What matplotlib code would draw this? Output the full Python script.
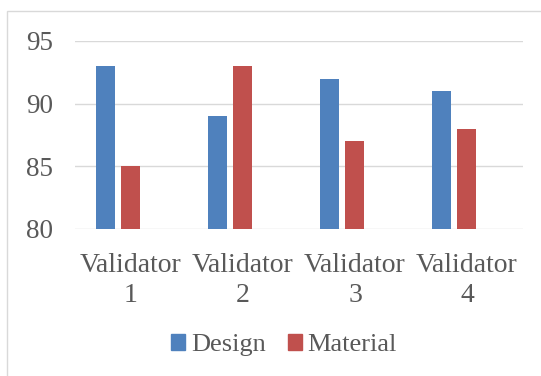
import numpy as np
import matplotlib.pyplot as plt
from matplotlib.patches import Rectangle, Patch

# Data
categories = ['Validator\n1', 'Validator\n2', 'Validator\n3', 'Validator\n4']
design = [93, 89, 92, 91]
material = [85, 93, 87, 88]

plt.rcParams['font.family'] = ['Liberation Serif', 'DejaVu Serif']
text_col = '#595959'
grid_col = '#D9D9D9'
blue = '#4F81BD'
red = '#C0504D'

fig = plt.figure(figsize=(5.41, 3.76), dpi=100)
ax = fig.add_axes([75 / 541, 1 - 229 / 376, 448 / 541, 188 / 376])

x = np.arange(len(categories))
w = 0.17
ax.bar(x + 0.272, [d - 80 for d in design], w, bottom=80, color=blue, zorder=3)
ax.bar(x + 0.496, [m - 80 for m in material], w, bottom=80, color=red, zorder=3)

ax.set_xlim(0, 4)
ax.set_ylim(80, 95)
ax.set_yticks([80, 85, 90, 95])
ax.set_xticks(x + 0.5)
ax.set_xticklabels(categories, linespacing=1.3)
ax.yaxis.grid(True, color=grid_col, linewidth=1.0, zorder=0)
for s in ax.spines.values():
    s.set_visible(False)
ax.tick_params(axis='both', length=0, colors=text_col)
ax.tick_params(axis='y', pad=16, labelsize=19.5)
ax.tick_params(axis='x', pad=17, labelsize=20)

# outer chart border
fig.patches.append(Rectangle((7 / 541, -0.1), 1.2, 1 - 11 / 376 + 0.1,
                             transform=fig.transFigure, fill=False,
                             edgecolor=grid_col, linewidth=1.0))

handles = [Patch(color=blue, label='Design'), Patch(color=red, label='Material')]
leg = fig.legend(handles=handles, loc='center', bbox_to_anchor=(284 / 541, 1 - 345 / 376),
                 ncol=2, frameon=False, fontsize=19, handlelength=0.55, handleheight=0.55,
                 handletextpad=0.2, columnspacing=0.85, borderpad=0)
for t in leg.get_texts():
    t.set_color(text_col)

fig.savefig('out.png', dpi=100)
